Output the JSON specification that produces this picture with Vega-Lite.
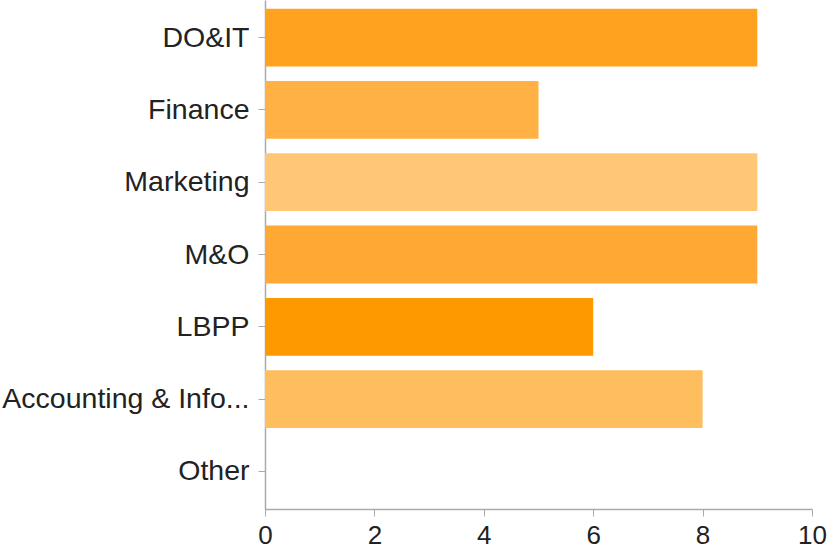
{
  "$schema": "https://vega.github.io/schema/vega-lite/v6.json",
  "autosize": "none",
  "width": 547,
  "height": 509,
  "padding": {"left": 265, "top": 0, "right": 17, "bottom": 39},
  "background": "white",
  "config": {"view": {"stroke": null}, "font": "Liberation Sans"},
  "data": {
    "values": [
      {"dept": "DO&IT", "count": 9},
      {"dept": "Finance", "count": 5},
      {"dept": "Marketing", "count": 9},
      {"dept": "M&O", "count": 9},
      {"dept": "LBPP", "count": 6},
      {"dept": "Accounting & Info...", "count": 8},
      {"dept": "Other", "count": 0}
    ]
  },
  "mark": {"type": "bar"},
  "encoding": {
    "y": {
      "field": "dept",
      "type": "nominal",
      "sort": null,
      "scale": {"paddingInner": 0.2, "paddingOuter": 0.12},
      "axis": {
        "title": null,
        "labelFontSize": 28.5,
        "labelColor": "#222222",
        "labelPadding": 9,
        "tickSize": 7,
        "tickColor": "#aaaaaa",
        "domainColor": "#aaaaaa",
        "domainWidth": 1.5,
        "labelLimit": 300,
        "grid": false
      }
    },
    "x": {
      "field": "count",
      "type": "quantitative",
      "scale": {"domain": [0, 10], "nice": false},
      "axis": {
        "title": null,
        "values": [0, 2, 4, 6, 8, 10],
        "labelFlush": false,
        "labelFontSize": 26,
        "labelColor": "#222222",
        "labelPadding": 6,
        "tickSize": 7,
        "tickColor": "#aaaaaa",
        "domainColor": "#aaaaaa",
        "domainWidth": 1.5,
        "grid": false
      }
    },
    "color": {
      "field": "dept",
      "type": "nominal",
      "legend": null,
      "scale": {
        "domain": ["DO&IT", "Finance", "Marketing", "M&O", "LBPP", "Accounting & Info...", "Other"],
        "range": ["#FFA21F", "#FFB243", "#FFC675", "#FFA833", "#FF9900", "#FFBE5E", "#FFB243"]
      }
    }
  }
}
